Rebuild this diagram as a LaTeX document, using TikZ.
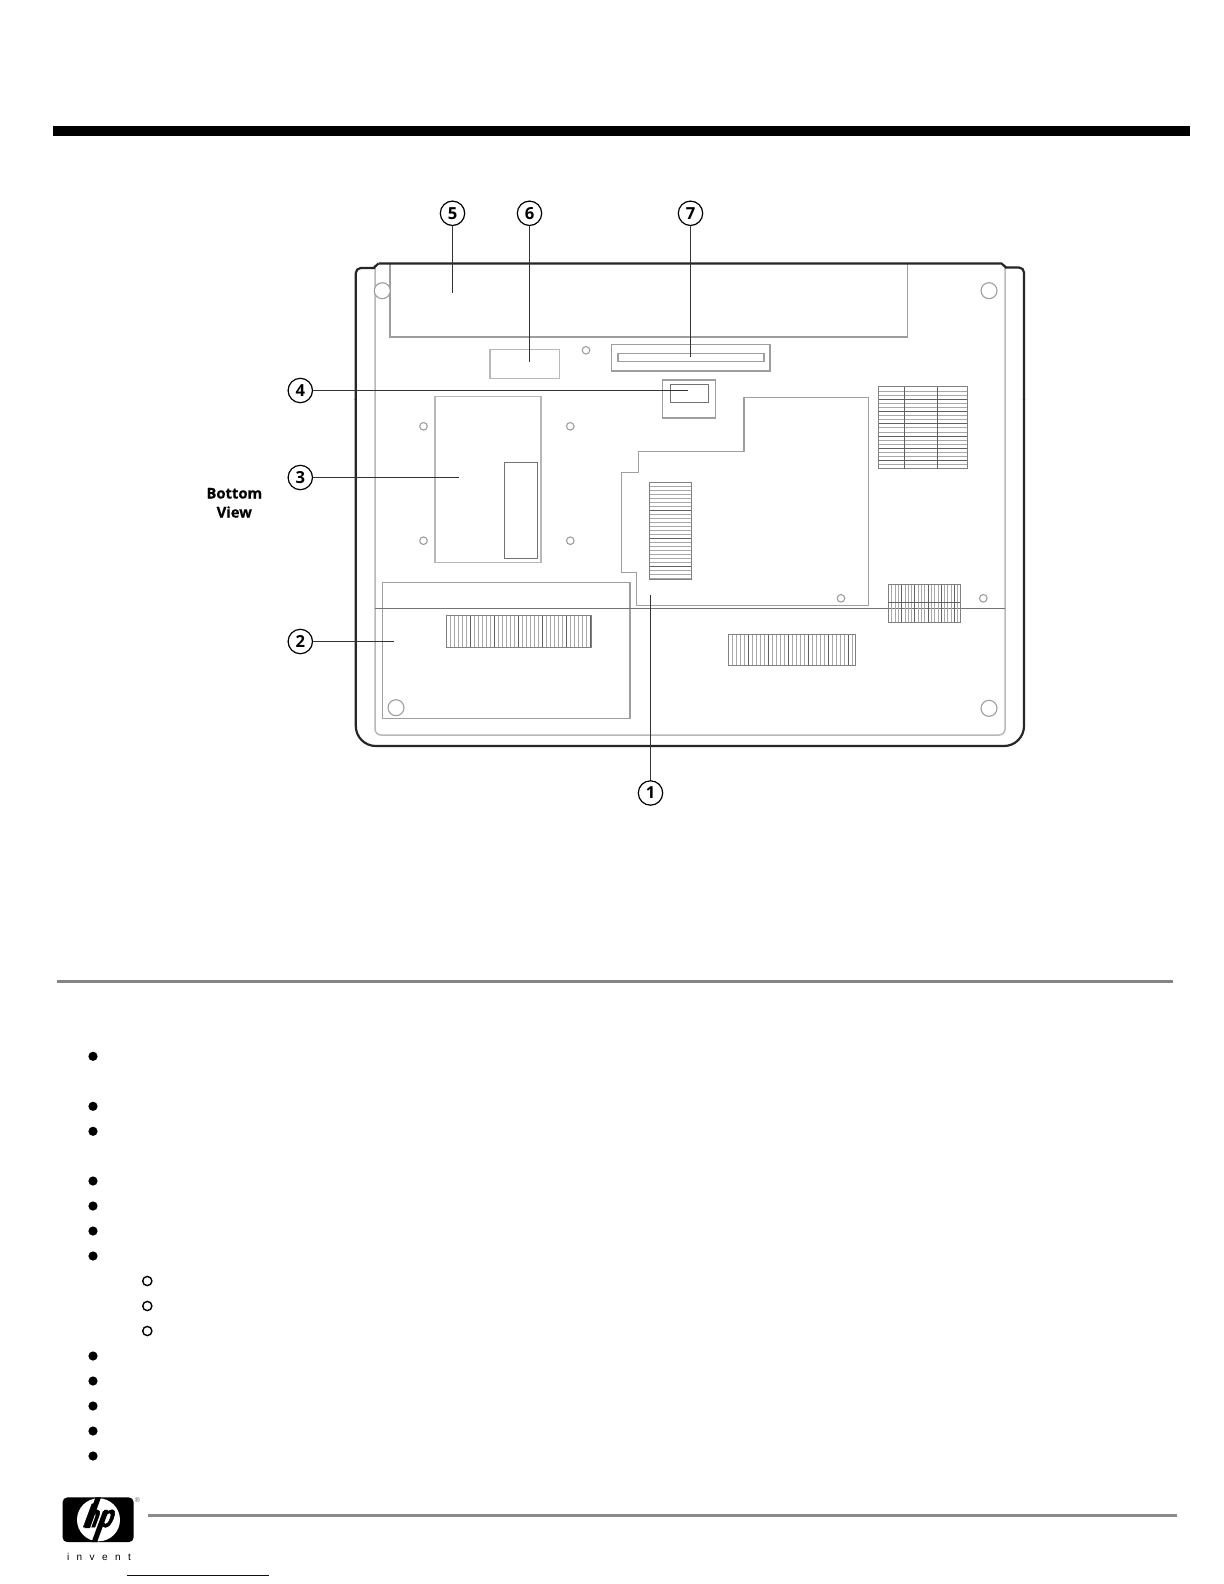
\documentclass[tikz,border=0pt]{standalone}
\usepackage{fontspec}
\setmainfont{Open Sans}
\newfontfamily\lsans{Liberation Sans}
\newfontfamily\hpfont[UprightFont=* Bold,FakeBold=1.6]{Liberation Sans}
\newfontfamily\viewfont[UprightFont=* Bold,FakeBold=0.4]{Open Sans}
\definecolor{panel}{gray}{0.62}
\definecolor{panelb}{gray}{0.72}
\definecolor{ventc}{gray}{0.66}
\definecolor{ventd}{gray}{0.38}
\definecolor{ruleg}{gray}{0.52}
\tikzset{
  outerline/.style={draw=black!85,line width=1.1pt,line join=round},
  panelline/.style={draw=panel,line width=0.6pt},
  softline/.style={draw=panelb,line width=0.75pt},
  hole/.style={draw=panel,line width=0.55pt,fill=white},
  seam/.style={draw=black!55,line width=0.45pt},
  vent/.style={draw=ventc,line width=0.3pt},
  ventdk/.style={draw=ventd,line width=0.3pt},
  ventbar/.style={draw=ventd,line width=0.6pt},
  ventbox/.style={draw=black!50,line width=0.35pt},
  leader/.style={draw=black!80,line width=0.85pt},
  callout/.style={circle,draw=black,line width=0.6pt,fill=white,minimum size=12.2pt,inner sep=0pt,font=\fontsize{8.3}{9}\selectfont\bfseries},
  dotb/.style={circle,fill=black,draw=none,minimum size=4.6pt,inner sep=0pt},
  doth/.style={circle,fill=white,draw=black,line width=0.7pt,minimum size=4.6pt,inner sep=0pt},
  viewlabel/.style={font=\viewfont\fontsize{7.4}{9.5}\selectfont,align=center,inner sep=0pt,text=black},
}
\begin{document}
\begin{tikzpicture}[x=0.5pt,y=-0.5pt]
\useasboundingbox[fill=white] (0,0) rectangle (1224,1584);
% header and rules
\fill[black] (53,125.7) rectangle (1190.3,136);
\draw[ruleg,line width=1.5pt] (57,981.3) -- (1173,981.3);
\draw[ruleg!95!white,line width=1.6pt] (148,1515.3) -- (1177,1515.3);
% inner body
\draw[softline,rounded corners=3pt] (375,265) -- (375,735) -- (1005,735) -- (1005,265);
% battery
\draw[panelline] (390,264) -- (390,337) -- (907.5,337) -- (907.5,264);
% other panels
\draw[softline] (490,349.3) rectangle (559.3,378.7);
\draw[panelline] (611.7,344.3) rectangle (770,371);
\draw[panelline] (618,353.3) rectangle (764,361.7);
\draw[panelline] (662.7,380) rectangle (715.7,418);
\draw[seam] (670,384.7) rectangle (708,402.3);
\draw[softline] (435,396.7) rectangle (541,562.7);
\draw[seam] (504.3,462.7) rectangle (537.7,558.7);
\draw[panelline] (382.7,582.3) rectangle (630,718.3);
\draw[panelline,line join=round] (744,397.7) -- (868.7,397.7) -- (868.7,605.7) -- (636.7,605.7) -- (636.7,572.3) -- (621.7,572.3) -- (621.7,472.7) -- (638.7,472.7) -- (638.7,451.7) -- (744,451.7) -- cycle;
\draw[seam] (375,608.5) -- (1005,608.5);
% vents
\foreach \y in {482.3,486.3,...,579.4} \draw[vent] (649.3,\y) -- (691.7,\y);
\foreach \y in {482.3,510.3,...,579.4} \draw[ventdk] (649.3,\y) -- (691.7,\y);
\draw[ventbox] (649.3,482.3) rectangle (691.7,579.3);
\foreach \y in {386.7,390.8,...,468.8} \draw[vent] (878.7,\y) -- (967.3,\y);
\foreach \y in {386.7,399,...,468.8} \draw[ventdk] (878.7,\y) -- (967.3,\y);
\draw[ventbox] (878.7,386.7) rectangle (967.3,468.7);
\draw[ventbar] (904.3,386.7) -- (904.3,468.7);
\draw[ventd,line width=0.45pt] (937,386.7) -- (937,468.7);
\foreach \x in {888.3,891.6,...,960.1} \draw[vent] (\x,584.7) -- (\x,622.7);
\foreach \x in {888.3,901.5,...,960.1} \draw[ventdk] (\x,584.7) -- (\x,622.7);
\draw[ventbox] (888.3,584.7) rectangle (960,622.7);
\draw[ventdk] (888.3,602.3) -- (960,602.3);
\foreach \x in {728.7,732.7,...,855.1} \draw[vent] (\x,634.3) -- (\x,665.3);
\foreach \x in {728.7,748.7,...,855.1} \draw[ventdk] (\x,634.3) -- (\x,665.3);
\draw[ventbox] (728.7,634.3) rectangle (855,665.3);
\foreach \x in {446,450,...,591.4} \draw[vent] (\x,615.7) -- (\x,647.7);
\foreach \x in {446,470,...,591.4} \draw[ventdk] (\x,615.7) -- (\x,647.7);
\draw[ventbox] (446,615.7) rectangle (591.3,647.7);
% screws
\foreach \x/\y in {586/350.3,423.5/426.3,570.3/426.3,423.5/540.7,570.3/540.7,841/598.3,983.3/598.3}
  \draw[hole] (\x,\y) circle (3.8);
\foreach \x/\y in {382.3/290.7,989/290.7,396/707.7,989/708.3}
  \draw[hole] (\x,\y) circle (8);
% outer body
\draw[outerline,rounded corners=2.5pt] (375,268) -- (355.8,268) -- (355.8,400);
\draw[outerline] (373.5,268) -- (378.5,263.5);
\draw[outerline] (378.5,263.5) -- (1001.5,263.5) -- (1006,267.5);
\draw[outerline,rounded corners=2.5pt] (1005,267.5) -- (1024,267.5) -- (1024,400);
\draw[outerline,rounded corners=10pt] (355.8,399) -- (355.8,746) -- (1024,746) -- (1024,399);
% callouts
\node[callout] (c1) at (650.5,793) {1};
\node[callout] (c2) at (300.3,641.5) {2};
\node[callout] (c3) at (300.3,477.5) {3};
\node[callout] (c4) at (300.3,390.5) {4};
\node[callout] (c5) at (452.5,213.3) {5};
\node[callout] (c6) at (529.5,213.3) {6};
\node[callout] (c7) at (690.5,213.3) {7};
\coordinate (t1) at (650.5,595);
\coordinate (t2) at (394,641.5);
\coordinate (t3) at (459.3,477.5);
\coordinate (t4) at (688.3,390.5);
\coordinate (t5) at (452.5,293.3);
\coordinate (t6) at (529.5,361.7);
\coordinate (t7) at (690.5,356.7);
\foreach \n in {1,...,7} \draw[leader] (c\n) -- (t\n);
\node[viewlabel] (view) at (234.3,502.8) {Bottom\\View};
% bullets
\foreach \n/\y in {a/1056.3,b/1106.3,c/1131.3,d/1181,e/1206,f/1231,g/1256,h/1356,i/1381,j/1406,k/1431,l/1456}
  \node[dotb] (b\n) at (93,\y) {};
\foreach \n/\y in {a/1281,b/1306,c/1331}
  \node[doth] (h\n) at (147.3,\y) {};
% logo
\fill[black,rounded corners=2.5pt] (62.5,1497.3) rectangle (133.7,1542.2);
\fill[white] (98.5,1519.8) circle (21.5);
\node[inner sep=0pt,anchor=base,xslant=0.37,xscale=0.76,transform shape,font=\hpfont\fontsize{16}{16}\selectfont] (hp) at (96.5,1527) {hp};
\fill[black] (84.5,1528) -- (90,1528) -- (101,1497.3) -- (95.5,1497.3) -- cycle;
\fill[black] (91.5,1542.2) -- (97,1542.2) -- (108.5,1511) -- (103,1511) -- cycle;
\node[inner sep=0pt,text=black!60,font=\lsans\fontsize{3.5}{4}\selectfont] (reg) at (137.5,1499.7) {®};
\node[inner sep=0pt,anchor=center,font=\lsans\fontsize{5}{6}\selectfont] (inv) at (99,1556.7) {\makebox[32pt][s]{i\hfill n\hfill v\hfill e\hfill n\hfill t}};
% link underline
\draw[blue!50!black,line width=0.5pt] (127.3,1575) -- (269,1575);
\end{tikzpicture}
\end{document}
